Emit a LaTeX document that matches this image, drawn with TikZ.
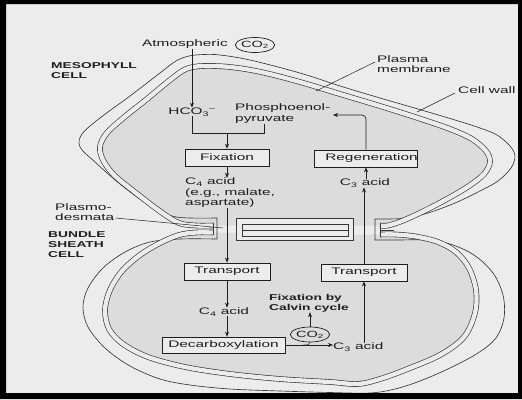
\documentclass[tikz,border=0pt]{standalone}
\usepackage{fontspec}
\setmainfont{Liberation Sans}[FakeStretch=1.62]
\usetikzlibrary{arrows.meta,shapes.geometric}
\definecolor{paper}{RGB}{236,236,236}
\definecolor{cellfill}{RGB}{220,220,220}
\definecolor{ink}{RGB}{30,30,30}
\definecolor{wallc}{RGB}{55,55,55}
\begin{document}
\begin{tikzpicture}[x=1pt,y=-1pt,
  txt/.style={font=\fontsize{9.5}{10.5}\selectfont, text=ink, inner sep=0pt},
  lab/.style={font=\fontsize{8.5}{10}\selectfont\bfseries, text=ink, inner sep=0pt, align=left},
  stepbox/.style={draw=ink, line width=0.7pt, fill=paper, minimum height=17pt, inner sep=0pt, font=\fontsize{9.5}{10.5}\selectfont, text=ink},
  arr/.style={draw=ink, line width=0.7pt, -{Stealth[length=5pt,width=4pt]}},
  ln/.style={draw=ink, line width=0.7pt},
  thin/.style={draw=ink, line width=0.5pt},
  wall/.style={draw=wallc, line width=0.65pt},
  core/.style={draw=wallc, line width=0.65pt, double=paper, double distance=4.3pt},
  co2/.style={ellipse, draw=ink, line width=0.7pt, inner sep=0pt, minimum width=37pt, minimum height=15pt, font=\fontsize{9}{10}\selectfont, text=ink}
]
\useasboundingbox (0,0) rectangle (522,399);
\fill[paper] (0,0) rectangle (522,399);

% cell interiors
\fill[cellfill] plot[smooth,tension=0.55] coordinates {(213,225.5) (196,225.5) (179,223) (161,212) (136,193) (114,175) (103,160) (100,147) (106,134) (122,119) (147,99) (170,80) (186,69) (203,66) (230,67) (261,72) (300,82) (340,94) (380,106) (418,118) (450,129) (472,139) (486,151) (490,162) (484,174) (469,186) (447,199) (424,211) (402,221) (388,225.5) (380,225.5)}
  -- (353,225.5) -- (353,218) -- (236,218) -- (236,225.5) -- cycle;
\fill[cellfill] plot[smooth,tension=0.55] coordinates {(213,232.5) (196,232.5) (179,235) (160,243) (140,255) (122,271) (110,290) (105,310) (109,329) (123,344) (148,357) (185,367) (230,374) (280,379) (330,382) (358,384) (380,379) (405,370) (440,355) (464,337) (475,313) (476,290) (469,268) (456,252) (438,242) (416,236.5) (396,234.5) (380,234.5)}
  -- (353,234.5) -- (353,240) -- (236,240) -- (236,232.5) -- cycle;

% outer cell wall (both cells)
\draw[wall] plot[smooth,tension=0.55] coordinates {(217,218) (190,218) (172,216) (150,206) (120,184) (95,162) (80,147) (82,134) (100,118) (130,96) (160,73) (176,61) (189,56) (204,54.5) (220,55) (250,60) (300,73) (340,86) (380,98) (418,109) (455,120) (480,128) (497,135) (510,146) (515,156) (511,168) (498,181) (478,192) (455,203) (428,213) (405,218) (390,219) (375,219)}
  -- plot[smooth,tension=0.55] coordinates {(375,240) (398,240) (425,240) (450,244) (474,255) (493,273) (503,295) (504,318) (496,338) (478,353) (450,368) (420,381) (395,389) (370,393) (330,392.5) (280,391) (230,389) (190,385) (160,379) (130,366) (105,348) (88,327) (83,307) (88,288) (103,268) (125,252) (150,242) (180,239) (217,239)}
  -- cycle;

% inner wall + plasma membrane
\draw[core] plot[smooth,tension=0.55] coordinates {(213,225.5) (196,225.5) (179,223) (161,212) (136,193) (114,175) (103,160) (100,147) (106,134) (122,119) (147,99) (170,80) (186,69) (203,66) (230,67) (261,72) (300,82) (340,94) (380,106) (418,118) (450,129) (472,139) (486,151) (490,162) (484,174) (469,186) (447,199) (424,211) (402,221) (388,225.5) (380,225.5)};
\draw[core] plot[smooth,tension=0.55] coordinates {(213,232.5) (196,232.5) (179,235) (160,243) (140,255) (122,271) (110,290) (105,310) (109,329) (123,344) (148,357) (185,367) (230,374) (280,379) (330,382) (358,384) (380,379) (405,370) (440,355) (464,337) (475,313) (476,290) (469,268) (456,252) (438,242) (416,236.5) (396,234.5) (380,234.5)};
\draw[wall] (213,223) -- (213,235);
\draw[wall] (380,223) -- (380,237);
\draw[wall] (380,230) -- (394,230);

% shared wall between plasmodesmata
\draw[wall] (236,218) rectangle (353,240);
\draw[wall] (242,224) rectangle (348,236);
\draw[wall] (242,230) -- (348,230);

% labels
\node[txt, anchor=west] (atm) at (142,44) {Atmospheric};
\node[co2] (co2a) at (255,45) {CO\textsubscript{2}};
\node[lab, anchor=west] (meso) at (51,71) {MESOPHYLL\\CELL};
\node[txt, align=left, anchor=west] (pm) at (377,64) {Plasma\\membrane};
\node[txt, anchor=west] (cw) at (458,90) {Cell wall};
\coordinate (pmEnd) at (316,91);
\coordinate (cwEnd) at (417,112);
\draw[thin] ([xshift=-2pt,yshift=2pt]pm.west) -- (pmEnd);
\draw[thin] ([xshift=-3pt,yshift=-3pt]cw.west) -- (cwEnd);

\node[txt] (hco) at (192,112) {HCO\textsubscript{3}\textsuperscript{--}};
\node[txt, align=left, anchor=west] (pep) at (235,113.5) {Phosphoenol-\\pyruvate};
\draw[arr] (atm.south -| hco.north) -- (hco.north);
\coordinate (brj) at (227,133);
\draw[ln] (hco.south) -- (hco.south |- brj) -- (264,133) -- (264,124);
\node[stepbox, minimum width=84pt] (fix) at (227,157.5) {Fixation};
\draw[arr] (brj) -- (fix.north);
\node[txt, align=left, anchor=west] (c4a) at (185,193) {C\textsubscript{4} acid\\(e.g., malate,\\aspartate)};
\draw[arr] (fix.south) -- (fix.south |- c4a.north);

\node[stepbox, minimum width=84pt] (reg) at (366,158.5) {\hspace{11pt}Regeneration\hspace{11pt}};
\coordinate (pepIn) at (333,115);
\draw[arr, rounded corners=4pt] (reg.north) |- (pepIn);
\node[txt] (c3a) at (365,183) {C\textsubscript{3} acid};
\draw[arr] (c3a.north -| reg.south) -- (reg.south);

\node[txt, align=left, anchor=west] (pd) at (55,212) {Plasmo-\\desmata};
\coordinate (pdEnd) at (223,228);
\draw[thin] ([xshift=1pt,yshift=-6pt]pd.east) -- (pdEnd);
\node[lab, anchor=west] (bsc) at (48,245) {BUNDLE\\SHEATH\\CELL};

\node[stepbox, minimum width=86pt] (tl) at (227,271.5) {Transport};
\draw[arr] (fix.south |- c4a.south) -- (tl.north);
\node[stepbox, minimum width=86pt] (tr) at (364,272.5) {Transport};
\draw[arr] (tr.north) -- (tr.north |- c3a.south);

\node[txt] (c4b) at (224,312) {C\textsubscript{4} acid};
\draw[arr] (tl.south) -- (tl.south |- c4b.north);
\node[stepbox, minimum width=123pt, minimum height=16pt] (dec) at (223.5,345) {Decarboxylation};
\draw[arr] (tl.south |- c4b.south) -- (tl.south |- dec.north);

\node[txt, anchor=west] (c3b) at (333,347) {C\textsubscript{3} acid};
\draw[arr] (dec.east) -- (dec.east -| c3b.west);
\node[co2] (co2b) at (310,334.5) {CO\textsubscript{2}};
\draw[thin] (co2b.south) .. controls (309,345) .. (302,345);
\node[lab, anchor=west] (fcc) at (269,303) {Fixation by\\Calvin cycle};
\draw[arr] (co2b.north) -- (co2b.north |- fcc.south);
\draw[arr] (tr.south |- c3b.north) -- (tr.south);

% scan frame
\fill[black, even odd rule] (0,0) rectangle (522,399) (6,4) rectangle (518,393);
\end{tikzpicture}
\end{document}
